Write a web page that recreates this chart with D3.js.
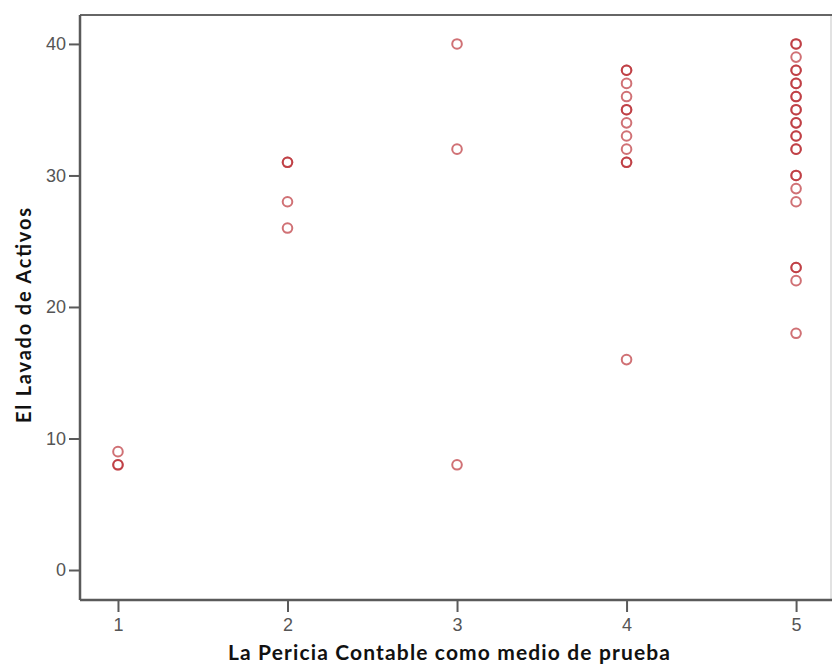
<!DOCTYPE html>
<html>
<head>
<meta charset="utf-8">
<script src="https://cdn.jsdelivr.net/npm/d3@7"></script>
<style>
  body { margin: 0; background: #fff; }
  svg { display: block; }
</style>
</head>
<body>
<svg id="chart" width="832" height="669"></svg>
<script>
// Scatter of "El Lavado de Activos" against "La Pericia Contable como medio de prueba".
// Repeated (x, y) pairs are listed as many times as they occur; the semi-transparent
// markers darken where they stack.
const pericia = [
  1, 1, 1,
  2, 2, 2, 2,
  3, 3, 3,
  4, 4, 4, 4, 4, 4, 4, 4, 4, 4, 4, 4,
  5, 5, 5, 5, 5, 5, 5, 5, 5, 5, 5, 5, 5, 5, 5, 5, 5, 5, 5, 5, 5, 5, 5, 5, 5
];
const lavado = [
  9, 8, 8,
  31, 31, 28, 26,
  40, 32, 8,
  38, 38, 37, 36, 35, 35, 34, 33, 32, 31, 31, 16,
  40, 40, 39, 38, 38, 37, 37, 36, 36, 35, 35, 34, 34, 33, 33, 32, 32, 30, 30, 29, 28, 23, 23, 22, 18
];
const xTicks = [1, 2, 3, 4, 5];
const yTicks = [0, 10, 20, 30, 40];
const xTitle = "La Pericia Contable como medio de prueba";
const yTitle = "El Lavado de Activos";

const svg = d3.select("#chart");
const plotL = 80, plotR = 831, plotT = 15, plotB = 600;

const x = d3.scaleLinear().domain([0.776, 5.206]).range([plotL, plotR]);
const y = d3.scaleLinear().domain([-2.28, 42.2]).range([plotB, plotT]);

// frame: light right edge, darker top
svg.append("line").attr("x1", plotR).attr("x2", plotR).attr("y1", plotT).attr("y2", plotB)
  .attr("stroke", "#d9d9d9").attr("stroke-width", 1.5);
svg.append("line").attr("x1", plotL).attr("x2", plotR + 1).attr("y1", plotT).attr("y2", plotT)
  .attr("stroke", "#666").attr("stroke-width", 2);

const tickFont = "'Liberation Sans', Arial, sans-serif";

const xAxis = svg.append("g").attr("transform", `translate(0,${plotB})`)
  .call(d3.axisBottom(x).tickValues(xTicks).tickSize(12).tickPadding(6).tickFormat(d3.format("d")));
const yAxis = svg.append("g").attr("transform", `translate(${plotL},0)`)
  .call(d3.axisLeft(y).tickValues(yTicks).tickSize(11).tickPadding(3).tickFormat(d3.format("d")));

[xAxis, yAxis].forEach(g => {
  g.select(".domain").attr("stroke", "#5a5a5a").attr("stroke-width", 2.5);
  g.selectAll(".tick line").attr("stroke", "#5a5a5a").attr("stroke-width", 2);
  g.selectAll(".tick text").attr("fill", "#555").style("font-family", tickFont).style("font-size", "18px");
});
xAxis.select(".domain").attr("d", `M${plotL},0H${plotR + 1}`);
yAxis.select(".domain").attr("d", `M0,${plotT}V${plotB}`);

// points
const pts = pericia.map((p, i) => ({ p, v: lavado[i] }));
svg.append("g").selectAll("circle").data(pts).join("circle")
  .attr("cx", d => x(d.p))
  .attr("cy", d => y(d.v))
  .attr("r", 4.8)
  .attr("fill", "none")
  .attr("stroke", "#b8282d")
  .attr("stroke-width", 2)
  .attr("stroke-opacity", 0.66);

// axis titles
const titleFont = "Lato, 'Open Sans', sans-serif";
svg.append("text")
  .attr("x", 228).attr("y", 660)
  .attr("textLength", 442).attr("lengthAdjust", "spacing")
  .style("font-family", titleFont).style("font-weight", "bold").style("font-size", "21px")
  .attr("fill", "#111")
  .text(xTitle);
svg.append("text")
  .attr("transform", "translate(31,423) rotate(-90)")
  .attr("textLength", 215).attr("lengthAdjust", "spacing")
  .style("font-family", titleFont).style("font-weight", "bold").style("font-size", "20px")
  .attr("fill", "#111")
  .text(yTitle);
</script>
</body>
</html>
